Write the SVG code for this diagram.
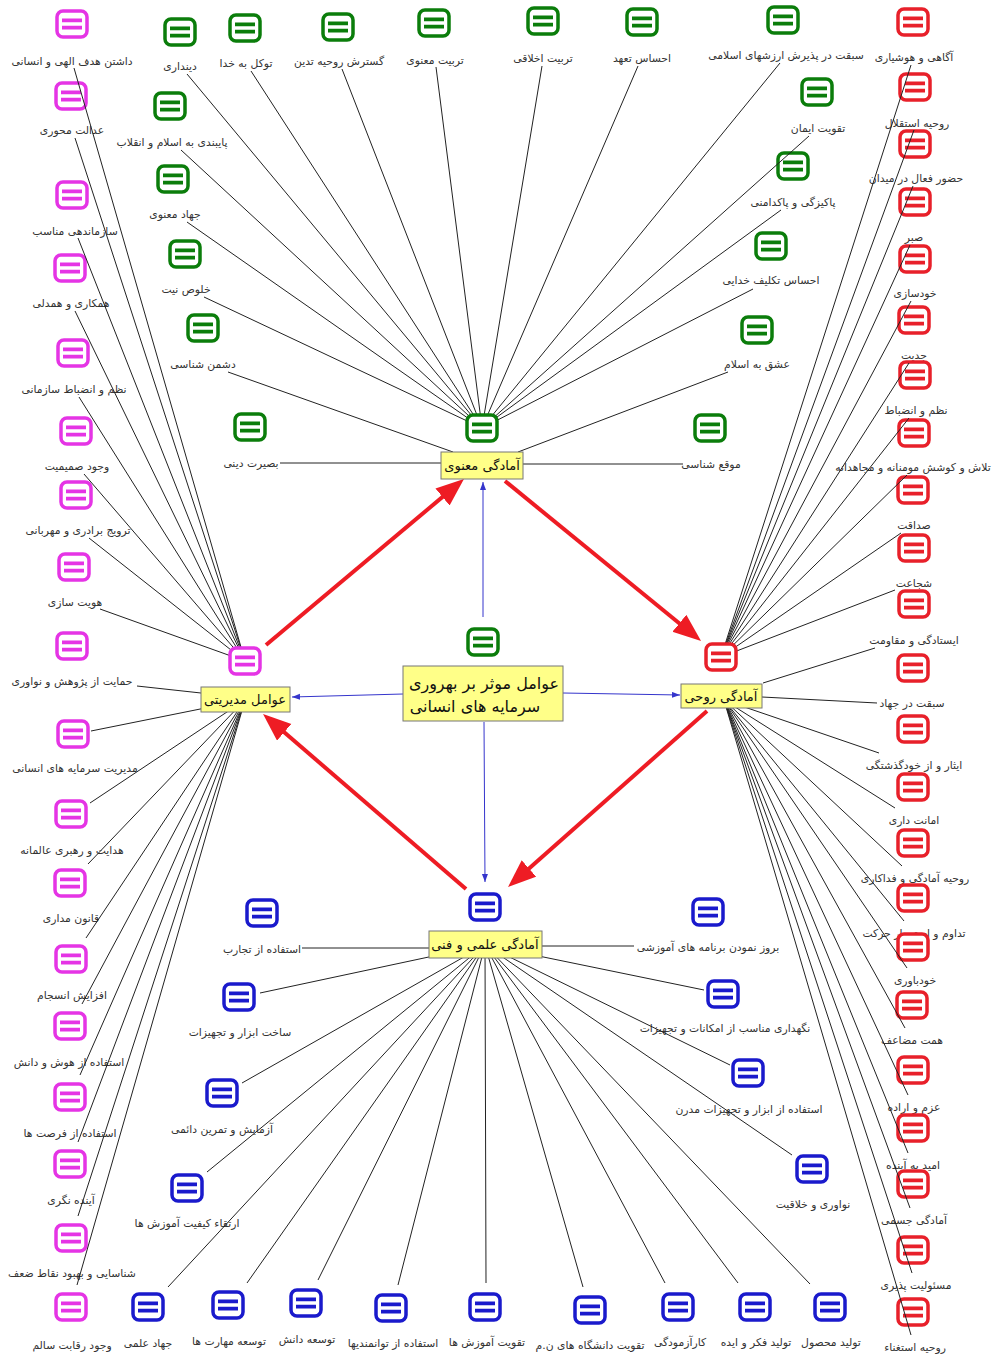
<svg xmlns="http://www.w3.org/2000/svg" xmlns:xlink="http://www.w3.org/1999/xlink" width="995" height="1357" viewBox="0 0 995 1357">
<style>
.l{font-family:"DejaVu Sans",sans-serif;font-size:10.8px;fill:#333;text-anchor:middle;dominant-baseline:central;direction:rtl}
.h{font-family:"DejaVu Sans",sans-serif;font-size:13px;fill:#111;text-anchor:middle;dominant-baseline:central;direction:rtl}
.c{font-family:"DejaVu Sans",sans-serif;font-size:16px;fill:#111;text-anchor:middle;dominant-baseline:central;direction:rtl}
.g{color:#0b7d0b}.m{color:#e534e5}.r{color:#e8202a}.b{color:#1a1acc}
.box{fill:#ffff88;stroke:#777;stroke-width:1}
.ln{stroke:#222;stroke-width:1;fill:none}
.red{stroke:#ee1c24;stroke-width:4;fill:none;marker-end:url(#ar)}
.blu{stroke:#3535cc;stroke-width:1;fill:none;marker-end:url(#ab)}
</style>
<defs>
<g id="ic"><rect x="-15" y="-13" width="30" height="26" rx="6" fill="#fff" stroke="currentColor" stroke-width="3.5"/><path d="M-10,-3.6H10M-10,3.6H10" stroke="currentColor" stroke-width="3.8"/></g>
<marker id="ar" markerUnits="userSpaceOnUse" markerWidth="30" markerHeight="24" refX="18" refY="11" orient="auto"><path d="M0,0 L28,11 L0,22 z" fill="#ee1c24"/></marker>
<marker id="ab" markerUnits="userSpaceOnUse" markerWidth="9" markerHeight="7" refX="8" refY="3" orient="auto"><path d="M0,0 L8,3 L0,6 z" fill="#3535cc"/></marker>
</defs>
<rect width="995" height="1357" fill="#fff"/>

<g id="leaves">
<g id="g1" class="g"><use href="#ic" x="180" y="32"/><text class="l" x="180" y="66">دینداری</text></g>
<g id="g2" class="g"><use href="#ic" x="245" y="28"/><text class="l" x="246" y="63">توکل به خدا</text></g>
<g id="g3" class="g"><use href="#ic" x="338" y="27"/><text class="l" x="339" y="61">گسترش روحیه تدین</text></g>
<g id="g4" class="g"><use href="#ic" x="434" y="23"/><text class="l" x="435" y="60">تربیت معنوی</text></g>
<g id="g5" class="g"><use href="#ic" x="543" y="21"/><text class="l" x="543" y="58">تربیت اخلاقی</text></g>
<g id="g6" class="g"><use href="#ic" x="642" y="22"/><text class="l" x="642" y="58">احساس تعهد</text></g>
<g id="g7" class="g"><use href="#ic" x="783" y="20"/><text class="l" x="786" y="55">سبقت در پذیرش ارزشهای اسلامی</text></g>
<g id="g8" class="g"><use href="#ic" x="170" y="106"/><text class="l" x="172" y="142">پایبندی به اسلام و انقلاب</text></g>
<g id="g9" class="g"><use href="#ic" x="173" y="179"/><text class="l" x="175" y="214">جهاد معنوی</text></g>
<g id="g10" class="g"><use href="#ic" x="185" y="254"/><text class="l" x="186" y="289">خلوص نیت</text></g>
<g id="g11" class="g"><use href="#ic" x="203" y="328"/><text class="l" x="203" y="364">دشمن شناسی</text></g>
<g id="g12" class="g"><use href="#ic" x="250" y="427"/><text class="l" x="251" y="463">بصیرت دینی</text></g>
<g id="g13" class="g"><use href="#ic" x="817" y="92"/><text class="l" x="818" y="128">تقویت ایمان</text></g>
<g id="g14" class="g"><use href="#ic" x="793" y="166"/><text class="l" x="793" y="202">پاکیزگی و پاکدامنی</text></g>
<g id="g15" class="g"><use href="#ic" x="771" y="246"/><text class="l" x="771" y="280">احساس تکلیف خدایی</text></g>
<g id="g16" class="g"><use href="#ic" x="757" y="330"/><text class="l" x="757" y="364">عشق به اسلام</text></g>
<g id="g17" class="g"><use href="#ic" x="710" y="428"/><text class="l" x="711" y="464">موقع شناسی</text></g>

<g id="m1" class="m"><use href="#ic" x="72" y="24"/><text class="l" x="72" y="61">داشتن هدف الهی و انسانی</text></g>
<g id="m2" class="m"><use href="#ic" x="71" y="96"/><text class="l" x="72" y="130">عدالت محوری</text></g>
<g id="m3" class="m"><use href="#ic" x="72" y="195"/><text class="l" x="75" y="231">سازماندهی مناسب</text></g>
<g id="m4" class="m"><use href="#ic" x="70" y="268"/><text class="l" x="71" y="303">همکاری و همدلی</text></g>
<g id="m5" class="m"><use href="#ic" x="73" y="353"/><text class="l" x="74" y="389">نظم و انضباط سازمانی</text></g>
<g id="m6" class="m"><use href="#ic" x="76" y="431"/><text class="l" x="77" y="466">وجود صمیمیت</text></g>
<g id="m7" class="m"><use href="#ic" x="76" y="495"/><text class="l" x="78" y="530">ترویج برادری و مهربانی</text></g>
<g id="m8" class="m"><use href="#ic" x="74" y="567"/><text class="l" x="75" y="602">هویت سازی</text></g>
<g id="m9" class="m"><use href="#ic" x="72" y="646"/><text class="l" x="72" y="681">حمایت از پژوهش و نواوری</text></g>
<g id="m10" class="m"><use href="#ic" x="73" y="734"/><text class="l" x="75" y="768">مدیریت سرمایه های انسانی</text></g>
<g id="m11" class="m"><use href="#ic" x="71" y="814"/><text class="l" x="72" y="850">هدایت و رهبری عالمانه</text></g>
<g id="m12" class="m"><use href="#ic" x="70" y="883"/><text class="l" x="71" y="918">قانون مداری</text></g>
<g id="m13" class="m"><use href="#ic" x="71" y="959"/><text class="l" x="72" y="995">افزایش انسجام</text></g>
<g id="m14" class="m"><use href="#ic" x="70" y="1026"/><text class="l" x="69" y="1062">استفاده از هوش و دانش</text></g>
<g id="m15" class="m"><use href="#ic" x="70" y="1097"/><text class="l" x="70" y="1133">استفاده از فرصت ها</text></g>
<g id="m16" class="m"><use href="#ic" x="70" y="1164"/><text class="l" x="71" y="1200">آینده نگری</text></g>
<g id="m17" class="m"><use href="#ic" x="71" y="1238"/><text class="l" x="72" y="1273">شناسایی و بهبود نقاط ضعف</text></g>
<g id="m18" class="m"><use href="#ic" x="71" y="1307"/><text class="l" x="72" y="1345">وجود رقابت سالم</text></g>

<g id="r1" class="r"><use href="#ic" x="913" y="22"/><text class="l" x="914" y="57">آگاهی و هوشیاری</text></g>
<g id="r2" class="r"><use href="#ic" x="915" y="87"/><text class="l" x="917" y="123">روحیه استقلال</text></g>
<g id="r3" class="r"><use href="#ic" x="915" y="144"/><text class="l" x="916" y="178">حضور فعال در میدان</text></g>
<g id="r4" class="r"><use href="#ic" x="915" y="202"/><text class="l" x="914" y="237">صبر</text></g>
<g id="r5" class="r"><use href="#ic" x="915" y="259"/><text class="l" x="915" y="293">خودسازی</text></g>
<g id="r6" class="r"><use href="#ic" x="914" y="320"/><text class="l" x="914" y="355">جدیت</text></g>
<g id="r7" class="r"><use href="#ic" x="915" y="375"/><text class="l" x="916" y="410">نظم و انضباط</text></g>
<g id="r8" class="r"><use href="#ic" x="914" y="433"/><text class="l" x="913" y="467">تلاش و کوشش مومنانه و مجاهدانه</text></g>
<g id="r9" class="r"><use href="#ic" x="913" y="490"/><text class="l" x="914" y="525">صداقت</text></g>
<g id="r10" class="r"><use href="#ic" x="914" y="548"/><text class="l" x="914" y="583">شجاعت</text></g>
<g id="r11" class="r"><use href="#ic" x="914" y="604"/><text class="l" x="914" y="640">ایستادگی و مقاومت</text></g>
<g id="r12" class="r"><use href="#ic" x="913" y="668"/><text class="l" x="912" y="703">سبقت در جهاد</text></g>
<g id="r13" class="r"><use href="#ic" x="913" y="729"/><text class="l" x="914" y="765">ایثار و از خودگذشتگی</text></g>
<g id="r14" class="r"><use href="#ic" x="913" y="787"/><text class="l" x="914" y="820">امانت داری</text></g>
<g id="r15" class="r"><use href="#ic" x="913" y="843"/><text class="l" x="915" y="878">روحیه آمادگی و فداکاری</text></g>
<g id="r16" class="r"><use href="#ic" x="913" y="898"/><text class="l" x="914" y="933">تداوم و استمرار حرکت</text></g>
<g id="r17" class="r"><use href="#ic" x="913" y="947"/><text class="l" x="915" y="980">خودباوری</text></g>
<g id="r18" class="r"><use href="#ic" x="912" y="1005"/><text class="l" x="912" y="1040">همت مضاعف</text></g>
<g id="r19" class="r"><use href="#ic" x="913" y="1070"/><text class="l" x="914" y="1107">عزم و اراده</text></g>
<g id="r20" class="r"><use href="#ic" x="913" y="1128"/><text class="l" x="913" y="1165">امید به آینده</text></g>
<g id="r21" class="r"><use href="#ic" x="913" y="1184"/><text class="l" x="914" y="1220">آمادگی جسمی</text></g>
<g id="r22" class="r"><use href="#ic" x="913" y="1250"/><text class="l" x="916" y="1285">مسئولیت پذیری</text></g>
<g id="r23" class="r"><use href="#ic" x="913" y="1312"/><text class="l" x="915" y="1347">روحیه استغناء</text></g>

<g id="b1" class="b"><use href="#ic" x="262" y="913"/><text class="l" x="262" y="949">استفاده از تجارب</text></g>
<g id="b2" class="b"><use href="#ic" x="239" y="997"/><text class="l" x="240" y="1032">ساخت ابزار و تجهیزات</text></g>
<g id="b3" class="b"><use href="#ic" x="222" y="1093"/><text class="l" x="222" y="1129">آزمایش و تمرین دائمی</text></g>
<g id="b4" class="b"><use href="#ic" x="187" y="1188"/><text class="l" x="187" y="1223">ارتقاء کیفیت آموزش ها</text></g>
<g id="b5" class="b"><use href="#ic" x="708" y="912"/><text class="l" x="708" y="947">بروز نمودن برنامه های آموزشی</text></g>
<g id="b6" class="b"><use href="#ic" x="723" y="994"/><text class="l" x="725" y="1028">نگهداری مناسب از امکانات و تجهیزات</text></g>
<g id="b7" class="b"><use href="#ic" x="748" y="1073"/><text class="l" x="749" y="1109">استفاده از ابزار و تجهیزات مدرن</text></g>
<g id="b8" class="b"><use href="#ic" x="812" y="1169"/><text class="l" x="813" y="1204">نواوری و خلاقیت</text></g>
<g id="b9" class="b"><use href="#ic" x="148" y="1307"/><text class="l" x="148" y="1343">جهاد علمی</text></g>
<g id="b10" class="b"><use href="#ic" x="228" y="1305"/><text class="l" x="229" y="1341">توسعه مهارت ها</text></g>
<g id="b11" class="b"><use href="#ic" x="306" y="1303"/><text class="l" x="307" y="1339">توسعه دانش</text></g>
<g id="b12" class="b"><use href="#ic" x="391" y="1308"/><text class="l" x="393" y="1343">استفاده از توانمندیها</text></g>
<g id="b13" class="b"><use href="#ic" x="485" y="1307"/><text class="l" x="487" y="1342">تقویت آموزش ها</text></g>
<g id="b14" class="b"><use href="#ic" x="590" y="1310"/><text class="l" x="590" y="1345">تقویت دانشگاه های ن.م</text></g>
<g id="b15" class="b"><use href="#ic" x="678" y="1307"/><text class="l" x="680" y="1342">کارآزمودگی</text></g>
<g id="b16" class="b"><use href="#ic" x="755" y="1307"/><text class="l" x="756" y="1342">تولید فکر و ایده</text></g>
<g id="b17" class="b"><use href="#ic" x="830" y="1307"/><text class="l" x="831" y="1342">تولید محصول</text></g>
</g>

<g id="connectors">
<path class="ln" d="M187,74L482,428M251,71L482,428M342,69L482,428M436,67L482,428M542,66L482,428M638,66L482,428M780,63L482,428M181,150L482,428M187,222L482,428M204,297L482,428M228,372L453,452M280,463L441,463M809,136L482,428M781,210L482,428M753,289L482,428M728,372L518,452M683,464L523,464"/>
<path class="ln" d="M74,68L245,661M75,138L245,661M78,238L245,661M75,311L245,661M79,397L245,661M84,474L245,661M89,538L245,661M100,609L245,661M137,686L201,693M91,731L245,700M90,803L245,700M88,864L245,700M86,938L245,700M82,1004L245,700M80,1075L245,700M78,1142L245,700M78,1216L245,700M77,1285L245,700"/>
<path class="ln" d="M911,65L721,657M914,130L721,657M913,186L721,657M910,245L721,657M911,301L721,657M909,363L721,657M909,418L721,657M907,475L721,657M901,533L721,657M895,590L721,657M875,648L763,683M877,703L762,697M724,700L879,753M724,700L895,808M724,700L902,866M724,700L904,921M724,700L907,968M724,700L905,1028M724,700L908,1095M724,700L908,1153M724,700L910,1208M724,700L912,1273M724,700L911,1335"/>
<path class="ln" d="M302,948L429,948M260,993L485,945M242,1083L485,945M207,1172L485,945M634,946L542,946M704,990L485,945M730,1065L485,945M792,1155L485,945M168,1287L485,945M247,1283L485,945M318,1280L485,945M398,1285L485,945M486,1283L485,945M583,1287L485,945M665,1283L485,945M738,1283L485,945M810,1284L485,945"/>
<path class="red" d="M266,645L456.3,485.4"/>
<path class="red" d="M505,481L693.3,634.7"/>
<path class="red" d="M707,711L515.5,880.4"/>
<path class="red" d="M466,889L270.6,720.5"/>
<path class="blu" d="M483,617L483,482"/>
<path class="blu" d="M403,694L292,697"/>
<path class="blu" d="M563,693L680,695"/>
<path class="blu" d="M484,722L485,882"/>
</g>

<g id="hubs">
<g id="hub-spiritual" class="g"><use href="#ic" x="482" y="428"/><rect class="box" x="441" y="452" width="82" height="27"/><text class="h" x="482" y="465">آمادگی معنوی</text></g>
<g id="hub-mental" class="r"><use href="#ic" x="721" y="657"/><rect class="box" x="681" y="684" width="81" height="24"/><text class="h" x="721" y="696">آمادگی روحی</text></g>
<g id="hub-management" class="m"><use href="#ic" x="245" y="661"/><rect class="box" x="201" y="687" width="89" height="25"/><text class="h" x="245" y="699">عوامل مدیریتی</text></g>
<g id="hub-science" class="b"><use href="#ic" x="485" y="907"/><rect class="box" x="429" y="931" width="113" height="27"/><text class="h" x="485" y="944">آمادگی علمی و فنی</text></g>
<g id="center" class="g"><use href="#ic" x="483" y="642"/><rect class="box" x="403" y="666" width="160" height="55"/><text class="c" x="484" y="683">عوامل موثر بر بهروری</text><text class="c" x="475" y="706">سرمایه های انسانی</text></g>
</g>
</svg>
